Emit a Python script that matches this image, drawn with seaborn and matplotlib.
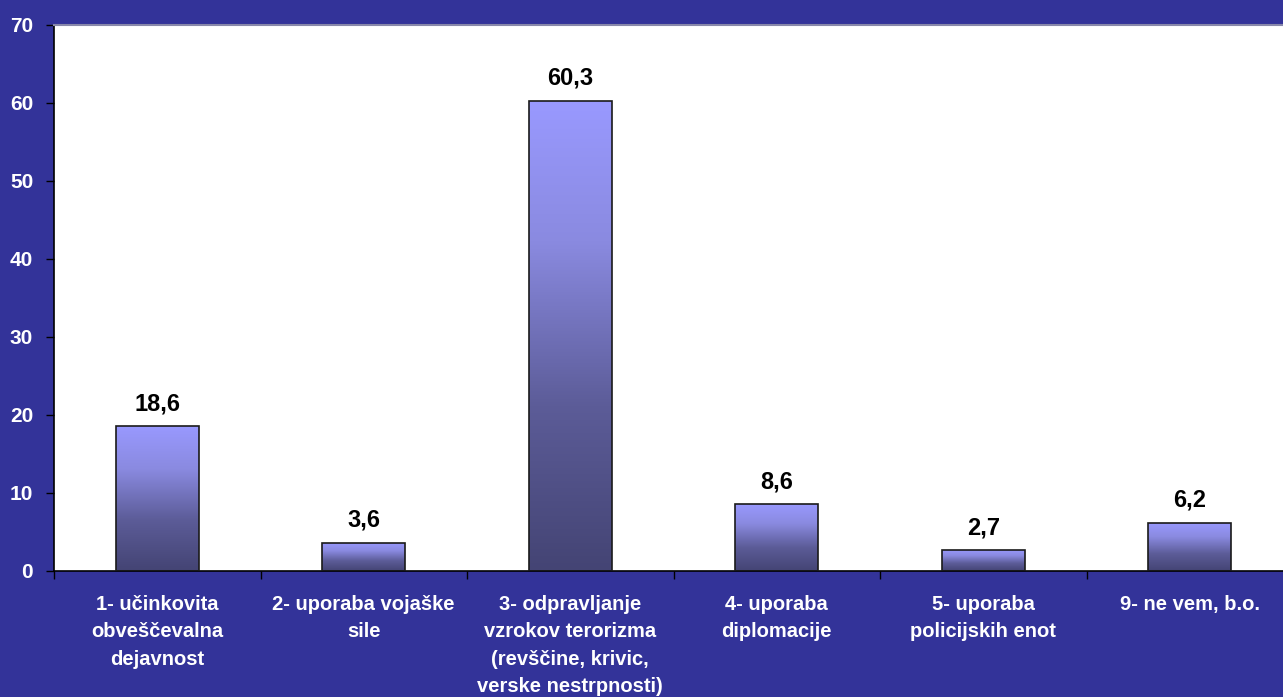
import numpy as np
import pandas as pd
import matplotlib
matplotlib.use("Agg")
import matplotlib.pyplot as plt
from matplotlib.colors import LinearSegmentedColormap
import seaborn as sns

categories = [
    "1- učinkovita\nobveščevalna\ndejavnost",
    "2- uporaba vojaške\nsile",
    "3- odpravljanje\nvzrokov terorizma\n(revščine, krivic,\nverske nestrpnosti)",
    "4- uporaba\ndiplomacije",
    "5- uporaba\npolicijskih enot",
    "9- ne vem, b.o.",
]
values = [18.6, 3.6, 60.3, 8.6, 2.7, 6.2]
value_labels = ["18,6", "3,6", "60,3", "8,6", "2,7", "6,2"]
y_ticks = [0, 10, 20, 30, 40, 50, 60, 70]

BG = "#333399"

sns.set_theme(style="white")
plt.rcParams["font.family"] = ["Liberation Sans", "DejaVu Sans"]

df = pd.DataFrame({"cat": categories, "val": values})

fig = plt.figure(figsize=(12.83, 6.97), dpi=100)
fig.patch.set_facecolor(BG)
ax = fig.add_axes([54 / 1283, 1 - 571 / 697, 1239 / 1283, 546 / 697])
ax.set_facecolor("white")

sns.barplot(data=df, x="cat", y="val", ax=ax, width=0.4,
            color="#9999ff", edgecolor="#1a1a1a", linewidth=1.2, zorder=2)

# vertical gradient inside every bar
cmap = LinearSegmentedColormap.from_list(
    "grad", [(0.0, "#444474"), (0.35, "#5c5c98"), (0.7, "#8a8ae0"), (1.0, "#9999ff")])
grad = np.linspace(0, 1, 256).reshape(-1, 1)
for patch in ax.patches:
    x0, y0 = patch.get_x(), patch.get_y()
    w, h = patch.get_width(), patch.get_height()
    im = ax.imshow(grad, cmap=cmap, origin="lower", aspect="auto",
                   extent=[x0, x0 + w, y0, y0 + h], zorder=2.5)
    im.set_clip_path(patch)
    patch.set_facecolor("none")
    patch.set_zorder(3)

for i, (v, lab) in enumerate(zip(values, value_labels)):
    ax.text(i, v + 1.4, lab, ha="center", va="bottom", fontsize=17,
            fontweight="bold", color="black")

ax.set_xlim(-0.5, 5.5)
ax.set_ylim(0, 70)
ax.set_yticks(y_ticks)
ax.set_yticklabels([str(t) for t in y_ticks], color="white", fontsize=15,
                   fontweight="bold")
ax.set_xticks(np.arange(-0.5, 6, 1.0), minor=True)
ax.set_xticks(range(len(categories)))
ax.set_xticklabels(categories, color="white", fontsize=14.5, fontweight="bold",
                   linespacing=1.57, va="top")
ax.tick_params(axis="x", which="major", length=0, pad=17)
ax.tick_params(axis="x", which="minor", length=6, width=1, color="black",
               direction="out", bottom=True)
ax.tick_params(axis="y", length=6, width=1, color="black", direction="out",
               left=True, pad=9)
ax.set_xlabel("")
ax.set_ylabel("")

for side in ["left", "bottom"]:
    ax.spines[side].set_color("black")
    ax.spines[side].set_linewidth(1.2)
ax.spines["top"].set_color("#8888aa")
ax.spines["top"].set_linewidth(1.5)
ax.spines["right"].set_visible(False)

fig.savefig("out.png", dpi=100, facecolor=BG)
